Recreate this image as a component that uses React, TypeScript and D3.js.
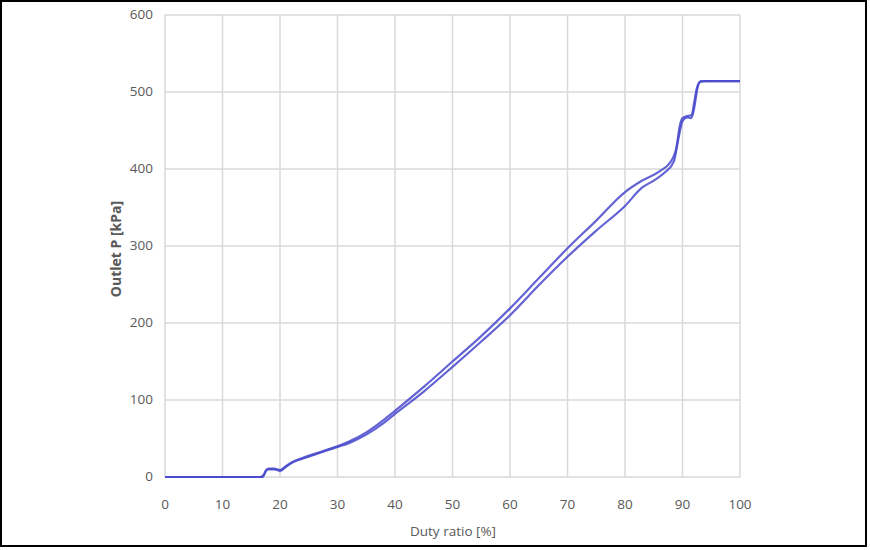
import React from "react";
import * as d3 from "d3";

const xTicks = [0, 10, 20, 30, 40, 50, 60, 70, 80, 90, 100];
const yTicks = [0, 100, 200, 300, 400, 500, 600];

// Sweep 1 (upper branch)
const sweepUpX = [0, 17, 17.5, 18, 19, 20, 21, 22, 24, 26, 28, 30, 32, 35, 38, 40, 45, 50, 55, 60, 65, 70, 75, 80, 83, 86, 88, 89, 89.5, 90, 91, 91.6, 92, 92.5, 93, 94, 100];
const sweepUpY = [0, 0, 8, 11, 11, 9, 14, 19, 25, 30, 35, 40, 46, 58, 74, 86, 117, 150, 183, 219, 258, 297, 333, 370, 385, 397, 410, 430, 455, 466, 469, 470, 485, 505, 513, 514, 514];

// Sweep 2 (lower branch)
const sweepDownX = [0, 16.5, 17.2, 17.8, 19, 20, 21, 22, 24, 26, 28, 30, 32, 35, 38, 40, 45, 50, 55, 60, 65, 70, 75, 80, 83, 85, 87, 88.5, 89.3, 90, 90.8, 91.5, 92, 92.6, 93.2, 100];
const sweepDownY = [0, 0, 3, 10, 10, 8, 13, 18, 24, 29, 34, 39, 44, 55, 70, 82, 111, 143, 176, 210, 249, 286, 320, 352, 376, 385, 396, 410, 440, 462, 467, 466, 478, 505, 514, 514];

const W = 870;
const H = 550;
const left = 165, right = 740, top = 15, bottom = 477;

export default function App() {
  const x = d3.scaleLinear().domain([0, 100]).range([left, right]);
  const y = d3.scaleLinear().domain([0, 600]).range([bottom, top]);
  const line = d3
    .line<[number, number]>()
    .x((d) => x(d[0]))
    .y((d) => y(d[1]))
    .curve(d3.curveMonotoneX);
  const up = sweepUpX.map((v, i) => [v, sweepUpY[i]] as [number, number]);
  const down = sweepDownX.map((v, i) => [v, sweepDownY[i]] as [number, number]);
  const font = "'Open Sans', 'Liberation Sans', sans-serif";
  return (
    <svg
      width={W}
      height={H}
      style={{ position: "absolute", left: 0, top: 0, background: "#fff" }}
      fontFamily={font}
    >
      <rect x={1} y={1} width={865} height={545} fill="#fff" stroke="#000" strokeWidth={2} />
      {xTicks.map((t) => (
        <line key={"gx" + t} x1={x(t)} x2={x(t)} y1={top} y2={bottom} stroke="#d9d9d9" strokeWidth={1.5} />
      ))}
      {yTicks.map((t) => (
        <line key={"gy" + t} x1={left} x2={right} y1={y(t)} y2={y(t)} stroke="#d9d9d9" strokeWidth={1.5} />
      ))}
      {xTicks.map((t) => (
        <text key={"tx" + t} x={x(t)} y={505} textAnchor="middle" dominantBaseline="middle" fontSize={13.5} fill="#595959">
          {t}
        </text>
      ))}
      {yTicks.map((t) => (
        <text key={"ty" + t} x={153} y={y(t)} textAnchor="end" dominantBaseline="middle" fontSize={13.5} fill="#595959">
          {t}
        </text>
      ))}
      <text x={453} y={532} textAnchor="middle" dominantBaseline="middle" fontSize={13.5} fill="#595959">
        Duty ratio [%]
      </text>
      <text
        transform={`translate(117,249) rotate(-90)`}
        textAnchor="middle"
        dominantBaseline="middle"
        fontSize={14}
        fontWeight="bold"
        fill="#595959"
      >
        Outlet P [kPa]
      </text>
      <path d={line(down) || ""} fill="none" stroke="#4848cc" strokeWidth={2.2} strokeOpacity={0.85} />
      <path d={line(up) || ""} fill="none" stroke="#4848cc" strokeWidth={2.2} strokeOpacity={0.85} />
    </svg>
  );
}
